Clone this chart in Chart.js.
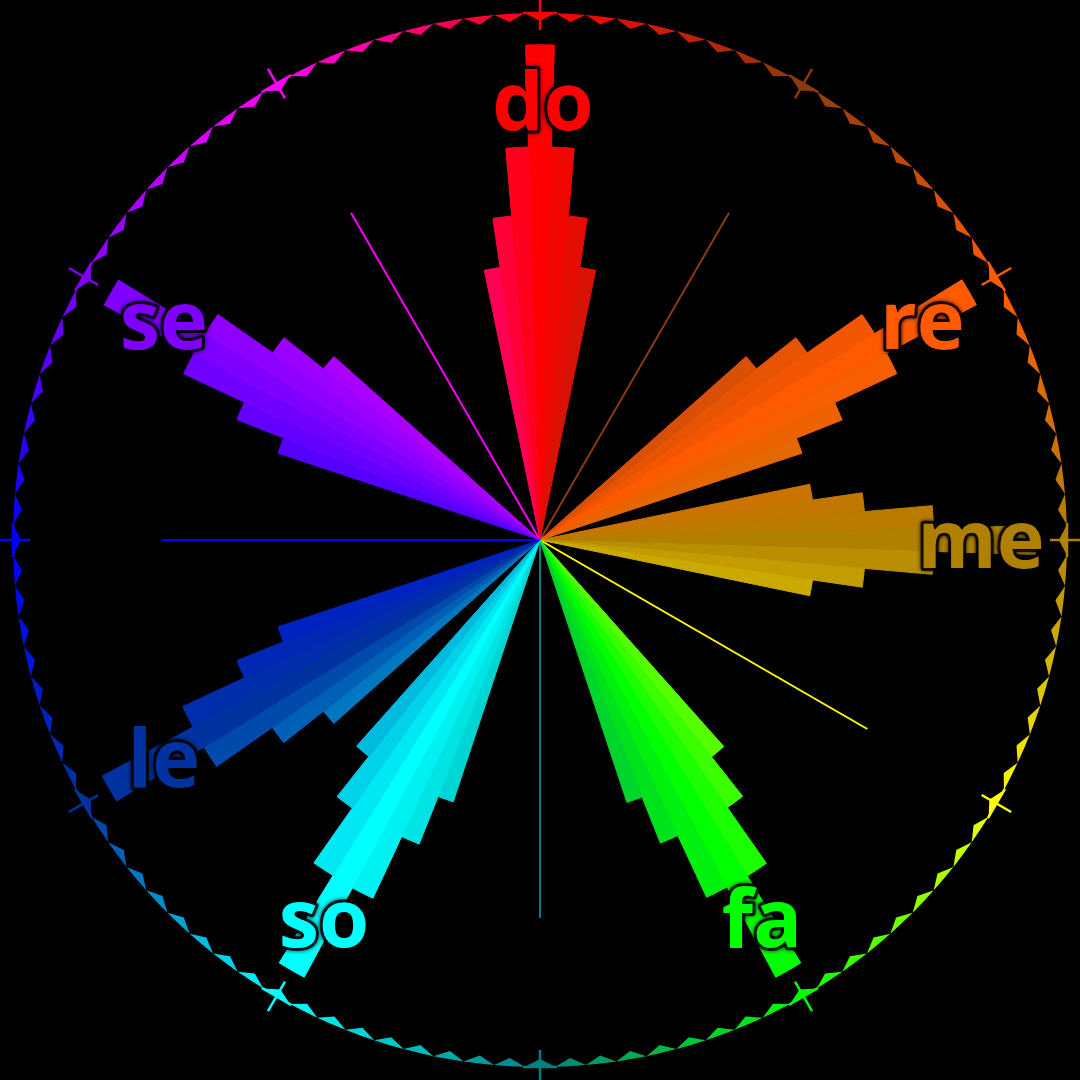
<!DOCTYPE html>
<html>
<head>
<meta charset="utf-8">
<script src="https://cdn.jsdelivr.net/npm/chart.js@4.4.1/dist/chart.umd.min.js"></script>
<style>
  html, body { margin: 0; padding: 0; background: #000; }
  canvas { display: block; }
</style>
</head>
<body>
<canvas id="chart" width="1080" height="1080"></canvas>
<script>
// ---------- data ----------
const SLICES_PER_STEP = 9;                 // wedges per semitone
const STEPS = 12;                          // semitones around the circle
const stepNames  = ['do','ra','re','me','mi','fa','fi','so','le','la','se','ti'];
const stepColors = ['#ff0000','#8b3a0f','#ff5a00','#b08000','#ffff00','#00ff00',
                    '#008080','#00ffff','#0033a0','#0000ff','#8000ff','#ff00ff'];

// notes of the scale and their step positions
const scaleNames = ['do','re','me','fa','so','le','se'];
const scaleSteps = [0, 2, 3, 5, 7, 8, 10];

// wedge values of each note, slices -3 .. +3 around the note
const doValues = [51.0, 60.2, 72.8, 91.7, 72.8, 60.2, 51.0];
const reValues = [51.1, 60.4, 72.8, 91.8, 72.9, 60.2, 51.1];
const meValues = [51.0, 60.3, 72.9, 91.8, 72.9, 60.3, 51.0];
const faValues = [51.2, 60.5, 73.1, 92.0, 73.0, 60.4, 51.2];
const soValues = [51.1, 60.6, 73.2, 92.0, 73.0, 60.6, 51.1];
const leValues = [51.1, 60.5, 73.1, 92.1, 73.0, 60.4, 51.1];
const seValues = [51.1, 60.4, 72.8, 91.7, 72.8, 60.4, 51.1];
const noteValues = [doValues, reValues, meValues, faValues, soValues, leValues, seValues];

// chromatic notes outside the scale, drawn as spokes
const spokeSteps = [1, 4, 6, 9, 11];
const spokeValue = 70;

// outer ring
const ringOuter = 97.6;
const ringInner = 96.1;
const crossSize = 17;
const labelRadius = 81.1;

// ---------- derived tables ----------
const SLICES = SLICES_PER_STEP * STEPS;      // 108
const HALF = SLICES * 2;                     // 216 half-slice positions (scale labels)
const PER_STEP_HALF = 2 * SLICES_PER_STEP;   // 18

function hexToRgb(h) {
  const n = parseInt(h.slice(1), 16);
  return [(n >> 16) & 255, (n >> 8) & 255, n & 255];
}
function sliceColor(j) {
  const pos = j / SLICES_PER_STEP;
  const k = Math.floor(pos) % STEPS;
  const t = pos - Math.floor(pos);
  const a = hexToRgb(stepColors[k]);
  const b = hexToRgb(stepColors[(k + 1) % STEPS]);
  const c = a.map((v, i) => Math.round(v + (b[i] - v) * t));
  return `rgb(${c[0]},${c[1]},${c[2]})`;
}

const wedgeData = [];
const wedgeColors = [];
for (let j = 0; j < SLICES; j++) {
  const step = Math.floor((j + 4) / SLICES_PER_STEP) % STEPS;
  const d = ((j + 4) % SLICES_PER_STEP) - 4;
  const g = scaleSteps.indexOf(step);
  wedgeData.push(g >= 0 && Math.abs(d) <= 3 ? noteValues[g][d + 3] : 0);
  wedgeColors.push(sliceColor(j));
}

const labels = Array.from({length: HALF}, (_, i) =>
  (i % PER_STEP_HALF === 1) ? stepNames[(i - 1) / PER_STEP_HALF] : '');

function stepOfHalf(i) { return Math.round((i - 0.5) / PER_STEP_HALF) % STEPS; }

const spokeDatasets = spokeSteps.map(k => ({
  type: 'radar',
  label: stepNames[k],
  data: Array.from({length: HALF}, (_, i) => (i === k * PER_STEP_HALF + 1) ? spokeValue : 0),
  fill: false,
  borderColor: stepColors[k],
  borderWidth: 2,
  pointRadius: 0,
  clip: false
}));

const sawData = Array.from({length: HALF}, (_, i) => i % 2 === 0 ? ringOuter : ringInner);
const outerData = Array.from({length: HALF}, () => ringOuter);

let ringGradient = null;
function getRingGradient(chart) {
  const r = chart.scales.r;
  if (!r || r.xCenter === undefined) return '#444';
  if (ringGradient) return ringGradient;
  const start = -Math.PI / 2 - Math.PI / SLICES;
  const g = chart.ctx.createConicGradient(start, r.xCenter, r.yCenter);
  for (let j = 0; j < SLICES; j++) {
    const col = sliceColor(j);
    g.addColorStop(j / SLICES, col);
    g.addColorStop((j + 1) / SLICES, col);
  }
  ringGradient = g;
  return g;
}

const noteLabelPlugin = {
  id: 'noteLabels',
  afterDatasetsDraw(chart) {
    const r = chart.scales.r;
    const ctx = chart.ctx;
    ctx.save();
    ctx.font = 'bold 81px "Open Sans"';
    ctx.textAlign = 'center';
    ctx.textBaseline = 'middle';
    ctx.lineJoin = 'round';
    scaleNames.forEach((name, g) => {
      const step = scaleSteps[g];
      const p = r.getPointPosition(step * PER_STEP_HALF + 1,
                                   r.getDistanceFromCenterForValue(labelRadius));
      const x = p.x + 3, y = p.y + 5;
      ctx.shadowColor = 'rgba(0,0,0,0.9)';
      ctx.shadowBlur = 4;
      ctx.strokeStyle = 'rgba(0,0,0,0.8)';
      ctx.lineWidth = 6;
      ctx.strokeText(name, x, y);
      ctx.shadowBlur = 0;
      ctx.shadowColor = 'rgba(0,0,0,0)';
      ctx.fillStyle = stepColors[step];
      ctx.fillText(name, x, y);
    });
    ctx.restore();
  }
};

const bgPlugin = {
  id: 'bg',
  beforeDraw(chart) {
    const ctx = chart.ctx;
    ctx.save();
    ctx.fillStyle = '#000';
    ctx.fillRect(0, 0, chart.width, chart.height);
    ctx.restore();
  }
};

new Chart(document.getElementById('chart'), {
  type: 'polarArea',
  data: {
    labels: labels,
    datasets: [
      {
        type: 'polarArea',
        label: 'notes',
        data: wedgeData,
        backgroundColor: wedgeColors,
        borderColor: wedgeColors,
        borderWidth: 1,
        clip: false
      },
      ...spokeDatasets,
      {
        type: 'radar',
        label: 'ring',
        data: sawData,
        fill: '+1',
        backgroundColor: (c) => getRingGradient(c.chart),
        borderWidth: 0,
        pointRadius: 0,
        clip: false
      },
      {
        type: 'radar',
        label: 'ringEdge',
        data: outerData,
        fill: false,
        borderWidth: 0,
        pointStyle: 'cross',
        pointRadius: (c) => (c.dataIndex % PER_STEP_HALF === 1) ? crossSize : 0,
        pointBorderWidth: 2.5,
        pointBorderColor: (c) => stepColors[stepOfHalf(c.dataIndex)],
        pointRotation: (c) => stepOfHalf(c.dataIndex) * 30,
        clip: false
      }
    ]
  },
  options: {
    responsive: false,
    animation: false,
    devicePixelRatio: 1,
    events: [],
    layout: { padding: 0 },
    plugins: { legend: { display: false }, tooltip: { enabled: false } },
    scales: {
      r: {
        min: 0,
        max: 100,
        startAngle: -180 / SLICES,
        ticks: { display: false },
        grid: { display: false },
        angleLines: { display: false },
        pointLabels: { display: false }
      }
    }
  },
  plugins: [bgPlugin, noteLabelPlugin]
});
</script>
</body>
</html>
